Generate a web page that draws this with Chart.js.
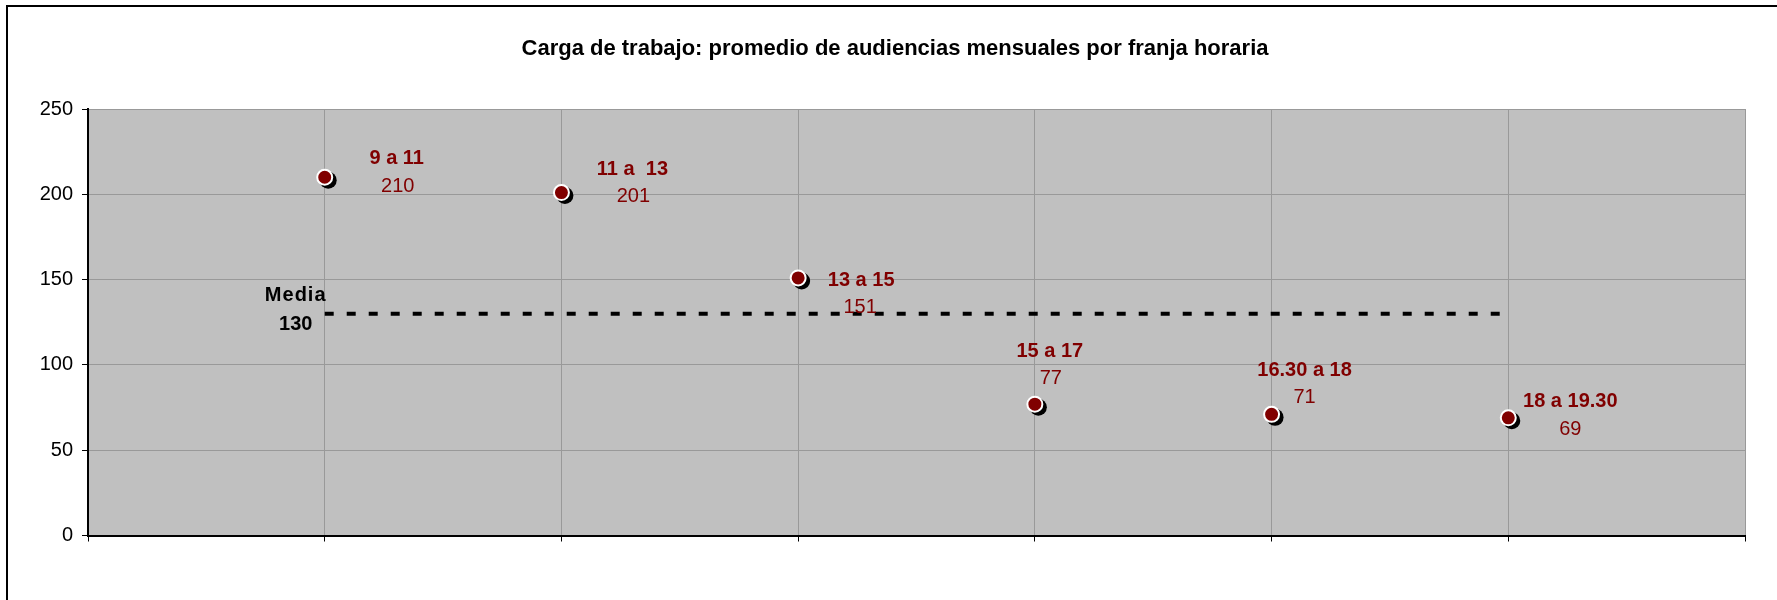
<!DOCTYPE html>
<html>
<head>
<meta charset="utf-8">
<style>
  html, body { margin: 0; padding: 0; background: #fff; overflow: hidden; }
</style>
<script src="https://cdn.jsdelivr.net/npm/chart.js@4.4.0/dist/chart.umd.min.js"></script>
</head>
<body>
<canvas id="chart" width="1777" height="600"></canvas>
<script>
// Carga de trabajo por franja horaria
const franjas = ["9 a 11", "11 a  13", "13 a 15", "15 a 17", "16.30 a 18", "18 a 19.30"];
const audiencias = [210, 201, 151, 77, 71, 69];
const media = 130;
const yTicks = [0, 50, 100, 150, 200, 250];
const titulo = 'Carga de trabajo: promedio de audiencias mensuales por franja horaria';

const FONT = "'Liberation Sans', Arial, sans-serif";
const RED = '#800000';

// offsets (px) of the name / value labels from each point
const labelOffsets = [
  [72, -19, 73, 9],
  [71, -23, 72, 4],
  [63, 3, 62, 30],
  [15, -53, 16, -26],
  [33, -44, 33, -17],
  [62, -16, 62, 12]
];

const deco = {
  id: 'deco',
  beforeDraw(chart) {
    const { ctx, chartArea: a } = chart;
    ctx.save();
    ctx.fillStyle = '#fff';
    ctx.fillRect(0, 0, chart.width, chart.height);
    // outer frame (only top and left edges show)
    ctx.fillStyle = '#000';
    ctx.fillRect(6, 5, chart.width, 2);
    ctx.fillRect(6, 5, 2, chart.height);
    ctx.fillStyle = '#c0c0c0';
    ctx.fillRect(a.left, a.top, a.right - a.left, a.bottom - a.top);
    // title
    ctx.fillStyle = '#000';
    ctx.font = 'bold 22px ' + FONT;
    ctx.textAlign = 'center';
    ctx.textBaseline = 'middle';
    ctx.fillText(titulo, 895, 49);
    ctx.restore();
  },
  beforeDatasetDraw(chart, args) {
    if (args.index !== 1) return;
    const ctx = chart.ctx;
    ctx.save();
    ctx.fillStyle = '#000';
    args.meta.data.forEach(p => {
      ctx.beginPath();
      ctx.arc(p.x + 3.5, p.y + 3, 8.5, 0, Math.PI * 2);
      ctx.fill();
    });
    ctx.restore();
  },
  afterDatasetsDraw(chart) {
    const ctx = chart.ctx;
    ctx.save();
    ctx.textAlign = 'center';
    ctx.textBaseline = 'middle';
    chart.getDatasetMeta(1).data.forEach((p, i) => {
      const o = labelOffsets[i];
      ctx.fillStyle = RED;
      ctx.font = 'bold 20px ' + FONT;
      ctx.fillText(franjas[i], p.x + o[0], p.y + o[1]);
      ctx.font = '20px ' + FONT;
      ctx.fillText(String(audiencias[i]), p.x + o[2], p.y + o[3]);
    });
    // media label
    const start = chart.getDatasetMeta(0).data[0];
    ctx.fillStyle = '#000';
    ctx.font = 'bold 20px ' + FONT;
    ctx.letterSpacing = '1px';
    ctx.fillText('Media', start.x - 29, start.y - 18);
    ctx.letterSpacing = '0px';
    ctx.fillText(String(media), start.x - 29, start.y + 11);
    ctx.restore();
  }
};

new Chart(document.getElementById('chart'), {
  type: 'scatter',
  data: {
    datasets: [
      {
        type: 'line',
        label: 'Media',
        data: [{ x: 1, y: media }, { x: franjas.length, y: media }],
        borderColor: '#000',
        borderWidth: 4,
        borderDash: [9, 13],
        pointRadius: 0,
        fill: false
      },
      {
        label: 'Audiencias',
        data: audiencias.map((v, i) => ({ x: i + 1, y: v })),
        backgroundColor: RED,
        borderColor: '#fff',
        borderWidth: 2,
        pointRadius: 7.5,
        pointHoverRadius: 7.5
      }
    ]
  },
  options: {
    responsive: false,
    animation: false,
    devicePixelRatio: 1,
    layout: { padding: { left: 0, right: 32, top: 109, bottom: 0 } },
    plugins: {
      legend: { display: false },
      tooltip: { enabled: false },
      title: { display: false }
    },
    scales: {
      x: {
        type: 'linear',
        min: 0,
        max: franjas.length + 1,
        ticks: { stepSize: 1, display: false },
        grid: { color: '#999', tickColor: '#000', tickLength: 6, lineWidth: 1 },
        border: { color: '#000', width: 2 },
        afterFit(s) { s.height = 64.5; }
      },
      y: {
        min: 0,
        max: 250,
        afterBuildTicks(s) { s.ticks = yTicks.map(v => ({ value: v })); },
        ticks: { color: '#000', padding: 9, font: { family: FONT, size: 20 } },
        grid: { color: '#999', tickColor: '#000', tickLength: 6, lineWidth: 1 },
        border: { color: '#000', width: 2 },
        afterFit(s) { s.width = 88; }
      }
    }
  },
  plugins: [deco]
});
</script>
</body>
</html>
